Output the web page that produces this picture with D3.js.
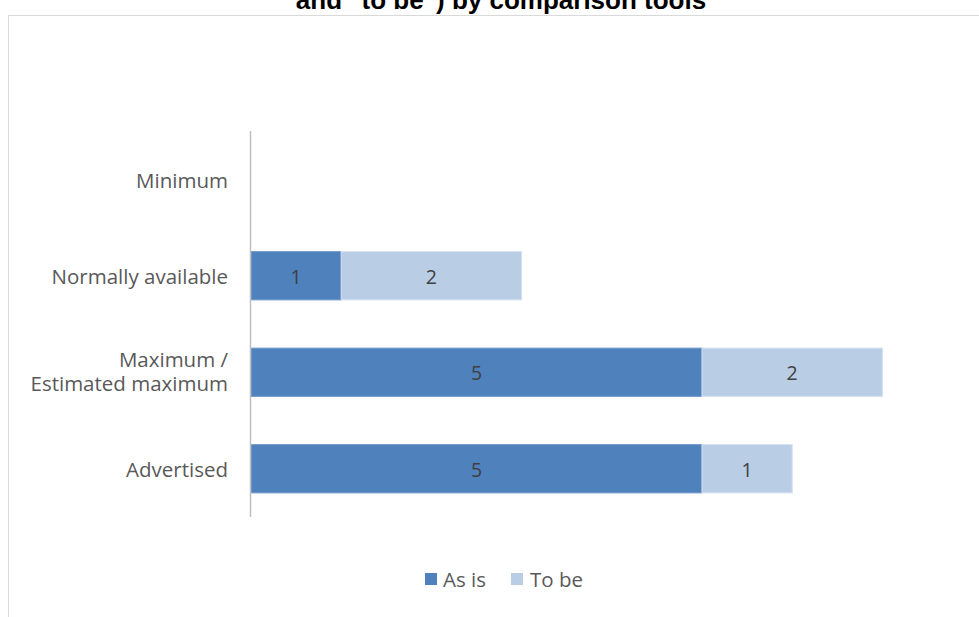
<!DOCTYPE html>
<html>
<head>
<meta charset="utf-8">
<script src="https://cdn.jsdelivr.net/npm/d3@7"></script>
<style>
  html, body { margin: 0; padding: 0; background: #fff; }
  svg { display: block; }
</style>
</head>
<body>
<svg id="chart" width="979" height="617"></svg>
<script>
const categories = ["Minimum", "Normally available", "Maximum / Estimated maximum", "Advertised"];
const categoryLines = [["Minimum"], ["Normally available"], ["Maximum /", "Estimated maximum"], ["Advertised"]];
const seriesNames = ["As is", "To be"];
const asIs = [0, 1, 5, 5];
const toBe = [0, 2, 2, 1];
const titleText = 'and "to be") by comparison tools';

const colors = ["#4f81bd", "#b9cde5"];
const svg = d3.select("#chart");
const font = "'Open Sans', 'Liberation Sans', sans-serif";

// chart frame
svg.append("rect")
  .attr("x", 8.5).attr("y", 15.5)
  .attr("width", 1000).attr("height", 700)
  .attr("fill", "#fff").attr("stroke", "#d9d9d9").attr("stroke-width", 1);

// title (only the last line is visible, top is clipped by the page edge)
svg.append("text")
  .attr("x", 501).attr("y", 9)
  .attr("text-anchor", "middle")
  .attr("font-family", "'Liberation Sans', Arial, sans-serif")
  .attr("font-weight", "bold")
  .attr("font-size", 26)
  .attr("fill", "#000")
  .text(titleText);

const x = d3.scaleLinear().domain([0, 8]).range([251, 972.6]);
const y = d3.scaleBand().domain(categories).range([131, 517]).paddingInner(0.5).paddingOuter(0.25);

const stackData = categories.map((c, i) => ({ cat: c, "As is": asIs[i], "To be": toBe[i] }));
const stack = d3.stack().keys(seriesNames)(stackData);

const g = svg.append("g");
stack.forEach((layer, si) => {
  layer.forEach(seg => {
    const v = seg[1] - seg[0];
    if (v <= 0) return;
    g.append("rect")
      .attr("x", x(seg[0]))
      .attr("y", y(seg.data.cat))
      .attr("width", x(seg[1]) - x(seg[0]))
      .attr("height", y.bandwidth())
      .attr("fill", colors[si])
      .attr("stroke", si === 0 ? "#6f98cc" : "#d3e0f0")
      .attr("stroke-width", 1);
    g.append("text")
      .attr("x", (x(seg[0]) + x(seg[1])) / 2)
      .attr("y", y(seg.data.cat) + y.bandwidth() / 2 + 1)
      .attr("dy", "0.35em")
      .attr("text-anchor", "middle")
      .attr("font-family", font)
      .attr("font-size", 19.5)
      .attr("fill", "#404040")
      .text(v);
  });
});

// vertical axis line
svg.append("line")
  .attr("x1", 250.5).attr("x2", 250.5)
  .attr("y1", 131).attr("y2", 517)
  .attr("stroke", "#bfbfbf").attr("stroke-width", 1.5);

// category labels
categories.forEach((c, i) => {
  const lines = categoryLines[i];
  const cy = y(c) + y.bandwidth() / 2 + (lines.length > 1 ? 0 : 1.5);
  const lh = 24;
  lines.forEach((ln, j) => {
    svg.append("text")
      .attr("text-anchor", "end")
      .attr("font-family", font)
      .attr("font-size", 20.5)
      .attr("fill", "#595959")
      .attr("x", 228)
      .attr("y", cy + (j - (lines.length - 1) / 2) * lh)
      .attr("dy", "0.35em")
      .text(ln);
  });
});

// legend
const legend = [{ name: seriesNames[0], sx: 425, tx: 443 }, { name: seriesNames[1], sx: 511, tx: 530 }];
legend.forEach((l, i) => {
  svg.append("rect").attr("x", l.sx).attr("y", 573).attr("width", 12).attr("height", 12).attr("fill", colors[i]);
  svg.append("text")
    .attr("x", l.tx).attr("y", 580).attr("dy", "0.35em")
    .attr("font-family", font).attr("font-size", 20.5).attr("fill", "#595959")
    .text(l.name);
});
</script>
</body>
</html>
